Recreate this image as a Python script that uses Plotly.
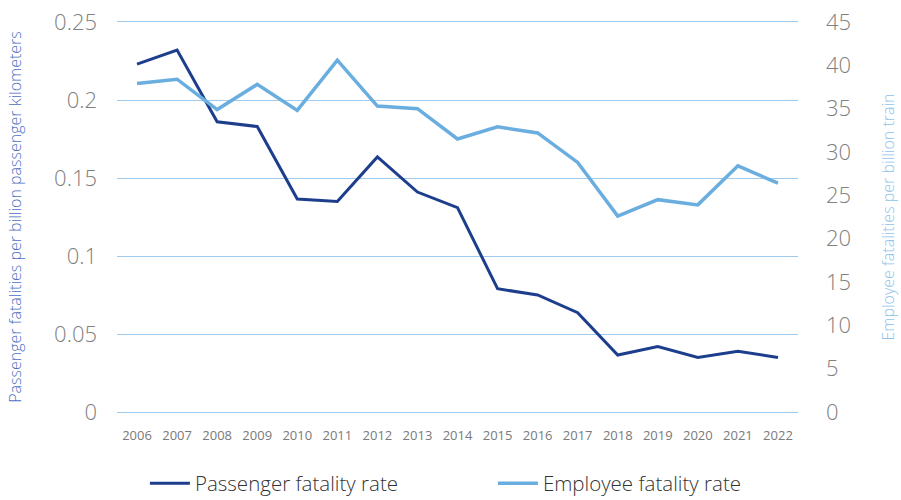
import plotly.graph_objects as go

years = [str(y) for y in range(2006, 2023)]
passenger_rate = [0.223, 0.232, 0.186, 0.183, 0.1365, 0.135, 0.1635, 0.141, 0.131,
                  0.079, 0.075, 0.0637, 0.0365, 0.0419, 0.035, 0.0389, 0.035]
employee_rate = [37.9, 38.4, 34.9, 37.8, 34.8, 40.6, 35.3, 35.0, 31.5,
                 32.9, 32.2, 28.8, 22.6, 24.5, 23.9, 28.4, 26.4]
left_ticks = [0, 0.05, 0.1, 0.15, 0.2, 0.25]
left_tick_text = ["0", "0.05", "0.1", "0.15", "0.2", "0.25"]
right_ticks = [0, 5, 10, 15, 20, 25, 30, 35, 40, 45]

DARK = "#1d3e8c"
LIGHT = "#6aaee0"
GRID = "#9fcbee"
FONT = "Open Sans"

fig = go.Figure()
fig.add_trace(go.Scatter(x=years, y=passenger_rate, mode="lines", name="Passenger fatality rate",
                         line=dict(color=DARK, width=3), yaxis="y", legend="legend"))
fig.add_trace(go.Scatter(x=years, y=employee_rate, mode="lines", name="Employee fatality rate",
                         line=dict(color=LIGHT, width=3.5), yaxis="y2", legend="legend2"))

legend_common = dict(orientation="h", y=-0.183, yanchor="middle", xanchor="left",
                     font=dict(family=FONT, size=20.5, color="#333333", weight=300),
                     itemwidth=40, bgcolor="rgba(0,0,0,0)")

fig.update_layout(
    width=901, height=500,
    margin=dict(l=117, r=103, t=22, b=88, autoexpand=False),
    plot_bgcolor="white", paper_bgcolor="white",
    font=dict(family=FONT, color="#808080"),
    showlegend=True,
    legend=dict(x=0.041, **legend_common),
    legend2=dict(x=0.552, **legend_common),
    xaxis=dict(type="category", showgrid=False, zeroline=False, ticks="",
               showline=True, mirror=True, linecolor=GRID, linewidth=1,
               range=[-0.5, 16.5], ticklabelstandoff=11,
               tickfont=dict(family=FONT, size=13, color="#7a7a7a")),
    yaxis=dict(range=[0, 0.25], tickvals=left_ticks, ticktext=left_tick_text,
               showgrid=True, gridcolor=GRID, gridwidth=1, zeroline=False, showline=False,
               ticks="", ticklabelstandoff=19, automargin=False,
               tickfont=dict(family=FONT, size=22, color="#808080", weight=300),
               title=dict(text="Passenger fatalities per billion passenger kilometers",
                          font=dict(family=FONT, size=16, color="#4a70bf", weight=300),
                          standoff=28)),
    yaxis2=dict(range=[0, 45], tickvals=right_ticks, overlaying="y", side="right",
                showgrid=False, zeroline=False, showline=False, ticks="",
                ticklabelstandoff=27, automargin=False,
                tickfont=dict(family=FONT, size=22, color="#808080", weight=300),
                title=dict(text="Employee fatalities per billion train",
                           font=dict(family=FONT, size=16, color="#8fc3ec", weight=300),
                           standoff=32)),
)

fig.write_html(
    "out.html",
    config={"displayModeBar": False},
    post_script="document.documentElement.style.margin='0';document.body.style.margin='0';document.body.style.overflow='hidden';",
)
